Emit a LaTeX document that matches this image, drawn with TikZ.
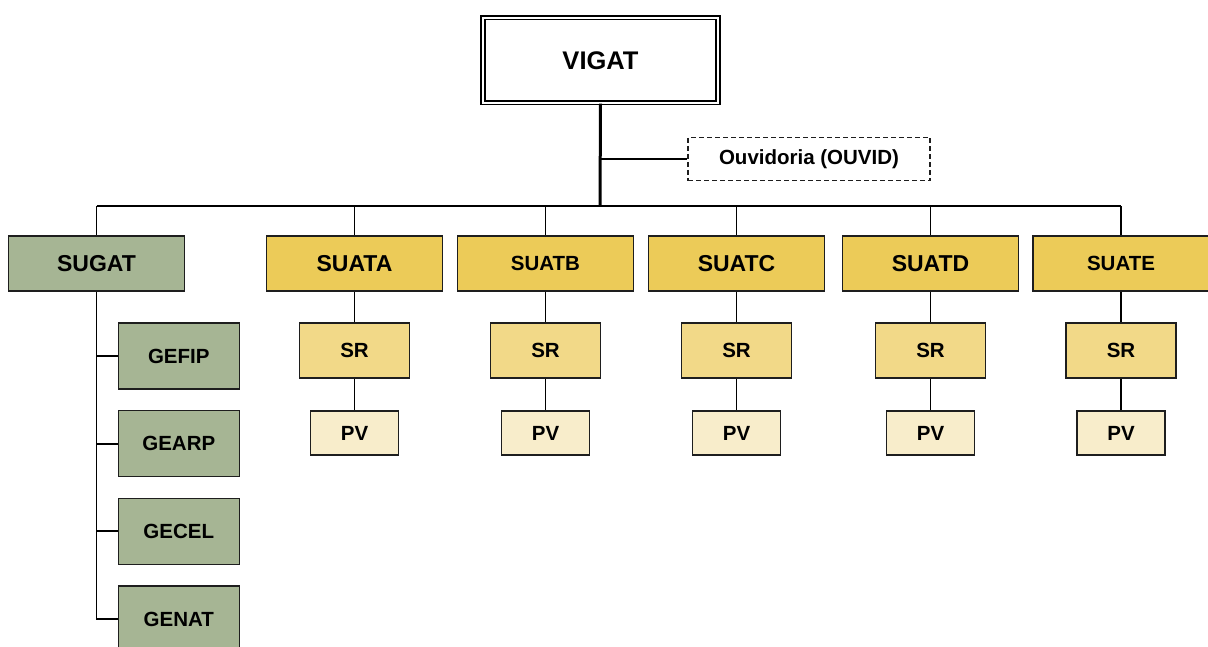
\documentclass[tikz,border=0pt]{standalone}
\usepackage{fontspec}
\setmainfont{Liberation Sans}
\definecolor{sage}{RGB}{166,181,148}
\definecolor{suatfill}{RGB}{236,203,88}
\definecolor{srfill}{RGB}{242,217,136}
\definecolor{pvfill}{RGB}{248,237,203}
\definecolor{edge}{RGB}{30,30,30}
\begin{document}
\begin{tikzpicture}[x=1pt,y=-1pt,
  box/.style={draw=edge,line width=1.5pt,inner sep=0pt,align=center,
    font=\fontsize{20.5}{24}\selectfont\bfseries},
  bigbox/.style={box,minimum width=176pt,minimum height=55pt,
    font=\fontsize{23}{27}\selectfont\bfseries},
  smallfont/.style={font=\fontsize{20.5}{24}\selectfont\bfseries},
  gebox/.style={box,fill=sage,minimum width=121pt,minimum height=66pt},
  srbox/.style={box,fill=srfill,minimum width=110pt,minimum height=55pt},
  pvbox/.style={box,fill=pvfill,minimum width=88pt,minimum height=44pt},
  conn/.style={draw=black,line width=1.8pt},
]
\useasboundingbox (0,0) rectangle (1208,646);

% top
\node[draw=black,double=white,double distance=2.3pt,line width=1.5pt,
  minimum width=235pt,minimum height=85pt,inner sep=0pt,
  font=\fontsize{25.5}{30}\selectfont\bfseries] (vigat) at (600.5,60.3) {VIGAT};
\node[box,dashed,dash pattern=on 5pt off 3pt,line width=1.3pt,
  minimum width=242pt,minimum height=43.5pt] (ouvid) at (809,159) {Ouvidoria (OUVID)};

\coordinate (bus) at (600,206);
\coordinate (ouvj) at (600,159);
\draw[line width=3pt] (vigat.south) -- (bus);
\draw[conn] (ouvj) -- (ouvid.west);

% second level
\node[bigbox,fill=sage] (sugat) at (96.5,263.5) {SUGAT};
\node[bigbox,fill=suatfill] (suata) at (354.5,263.5) {SUATA};
\node[bigbox,fill=suatfill,smallfont] (suatb) at (545.5,263.5) {SUATB};
\node[bigbox,fill=suatfill] (suatc) at (736.5,263.5) {SUATC};
\node[bigbox,fill=suatfill] (suatd) at (930.5,263.5) {SUATD};
\node[bigbox,fill=suatfill,smallfont] (suate) at (1121,263.5) {SUATE};

\coordinate (busL) at (96.5,206);
\coordinate (busR) at (1121,206);
\draw[line width=2pt] (busL) -- (busR);
\foreach \n in {sugat,suata,suatb,suatc,suatd,suate}{
  \coordinate (b-\n) at (\n.north |- bus);
  \draw[conn] (b-\n) -- (\n.north);
}

% SR and PV
\foreach \n/\x in {suata/354.5,suatb/545.5,suatc/736.5,suatd/930.5,suate/1121}{
  \node[srbox] (sr-\n) at (\x,350.5) {SR};
  \node[pvbox] (pv-\n) at (\x,433) {PV};
  \draw[conn] (\n.south) -- (sr-\n.north);
  \draw[conn] (sr-\n.south) -- (pv-\n.north);
}

% GE boxes
\node[gebox] (gefip) at (178.8,356) {GEFIP};
\node[gebox] (gearp) at (178.8,443.7) {GEARP};
\node[gebox] (gecel) at (178.8,531.3) {GECEL};
\node[gebox] (genat) at (178.8,619) {GENAT};
\coordinate (spine) at (96.5,619);
\draw[conn] (sugat.south) -- (spine) -- (genat.west);
\foreach \g in {gefip,gearp,gecel}{
  \draw[conn] (\g.west -| spine) -- (\g.west);
}
\end{tikzpicture}
\end{document}
